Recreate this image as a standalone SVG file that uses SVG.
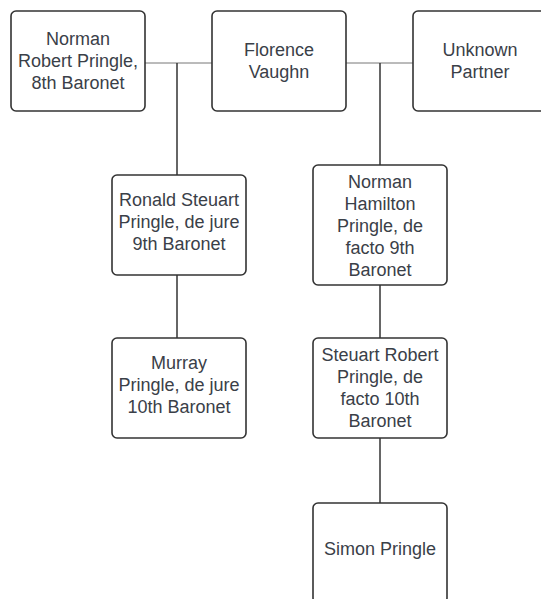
<svg xmlns="http://www.w3.org/2000/svg" width="541" height="599" viewBox="0 0 541 599">
<style>
.box{fill:#ffffff;stroke:#333333;stroke-width:1.6}
.t{font-family:"Liberation Sans",Arial,sans-serif;font-size:18px;fill:#3a4048;text-anchor:middle}
.h{stroke:#777777;stroke-width:1;fill:none}
.v{stroke:#333333;stroke-width:1.5;fill:none}
</style>
<rect width="541" height="599" fill="#ffffff"/>
<g id="connectors">
<path class="h" d="M145 63H212"/>
<path class="h" d="M346 63H413"/>
<path class="v" d="M177 63V175"/>
<path class="v" d="M380 63V165"/>
<path class="v" d="M177 275V338"/>
<path class="v" d="M380 285V338"/>
<path class="v" d="M380 438V503"/>
</g>
<g id="norman-robert">
<rect class="box" x="11" y="11" width="134" height="100" rx="5"/>
<text class="t" x="78" y="45">Norman</text>
<text class="t" x="78" y="67">Robert Pringle,</text>
<text class="t" x="78" y="89">8th Baronet</text>
</g>
<g id="florence">
<rect class="box" x="212" y="11" width="134" height="100" rx="5"/>
<text class="t" x="279" y="56">Florence</text>
<text class="t" x="279" y="78">Vaughn</text>
</g>
<g id="unknown">
<rect class="box" x="413" y="11" width="134" height="100" rx="5"/>
<text class="t" x="480" y="56">Unknown</text>
<text class="t" x="480" y="78">Partner</text>
</g>
<g id="ronald">
<rect class="box" x="112" y="175" width="134" height="100" rx="5"/>
<text class="t" x="179" y="206">Ronald Steuart</text>
<text class="t" x="179" y="228">Pringle, de jure</text>
<text class="t" x="179" y="250">9th Baronet</text>
</g>
<g id="norman-hamilton">
<rect class="box" x="313" y="165" width="134" height="120" rx="5"/>
<text class="t" x="380" y="188">Norman</text>
<text class="t" x="380" y="210">Hamilton</text>
<text class="t" x="380" y="232">Pringle, de</text>
<text class="t" x="380" y="254">facto 9th</text>
<text class="t" x="380" y="276">Baronet</text>
</g>
<g id="murray">
<rect class="box" x="112" y="338" width="134" height="100" rx="5"/>
<text class="t" x="179" y="369">Murray</text>
<text class="t" x="179" y="391">Pringle, de jure</text>
<text class="t" x="179" y="413">10th Baronet</text>
</g>
<g id="steuart">
<rect class="box" x="313" y="338" width="134" height="100" rx="5"/>
<text class="t" x="380" y="361">Steuart Robert</text>
<text class="t" x="380" y="383">Pringle, de</text>
<text class="t" x="380" y="405">facto 10th</text>
<text class="t" x="380" y="427">Baronet</text>
</g>
<g id="simon">
<rect class="box" x="313" y="503" width="134" height="100" rx="5"/>
<text class="t" x="380" y="555">Simon Pringle</text>
</g>
</svg>
